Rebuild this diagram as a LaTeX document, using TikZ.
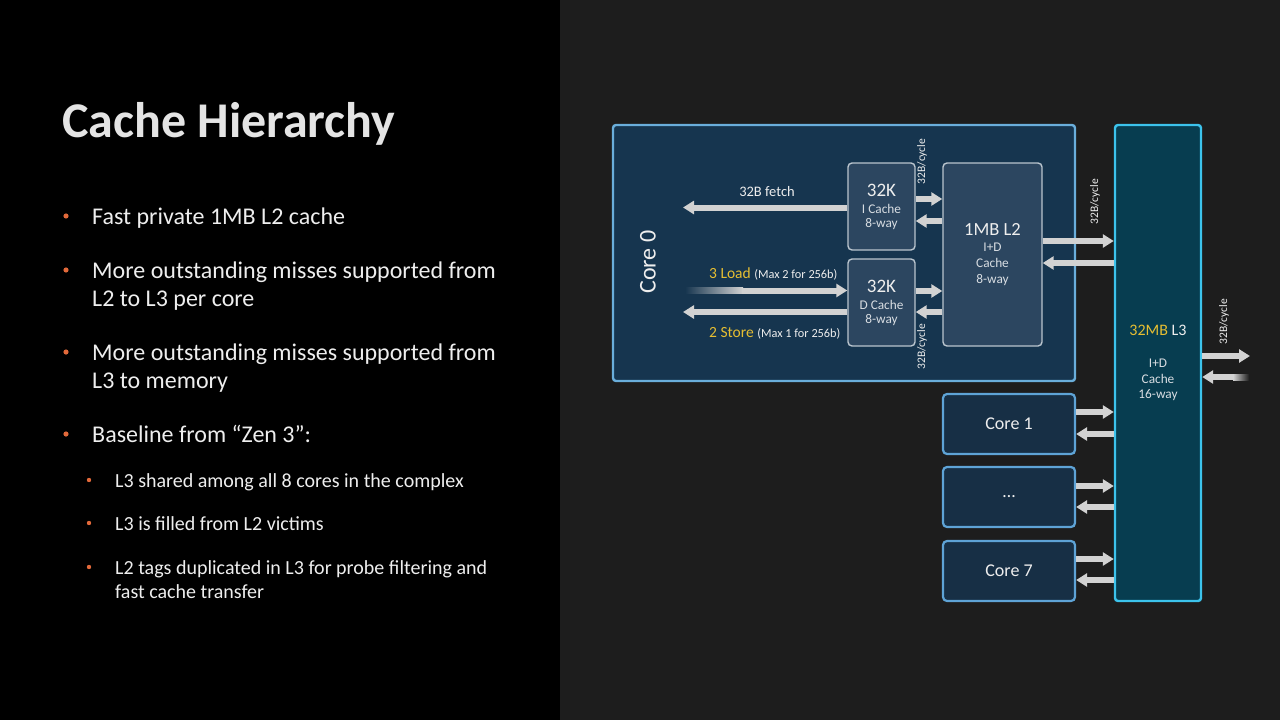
\documentclass[tikz,border=0pt]{standalone}
\usepackage{fontspec}
\setmainfont{Carlito}
\usetikzlibrary{arrows.meta}
\definecolor{bgright}{HTML}{1D1D1D}
\definecolor{titlegray}{HTML}{E4E4E4}
\definecolor{txt}{HTML}{EEEEEE}
\definecolor{boxtxt}{HTML}{D8DDE2}
\definecolor{bulletor}{HTML}{E2693A}
\definecolor{corefill}{HTML}{16354F}
\definecolor{coreedge}{HTML}{6AAEDB}
\definecolor{cachefill}{HTML}{2C4660}
\definecolor{cacheedge}{HTML}{BAC5CE}
\definecolor{lthreefill}{HTML}{073D50}
\definecolor{lthreeedge}{HTML}{3CC3EC}
\definecolor{smallcorefill}{HTML}{172F45}
\definecolor{smallcoreedge}{HTML}{5EA3D6}
\definecolor{busgray}{HTML}{D2D2D2}
\definecolor{gold}{HTML}{E6BE32}
\begin{document}
\begin{tikzpicture}[x=1pt,y=-1pt,
  bul/.style={anchor=base west, inner sep=0pt, align=left, text=txt,
    font=\fontsize{24}{28}\selectfont},
  subbul/.style={anchor=base west, inner sep=0pt, align=left, text=txt,
    font=\fontsize{20}{24}\selectfont},
  bigbox/.style={draw=coreedge, fill=corefill, line width=2.4pt, rounded corners=3pt, inner sep=0pt},
  cachebox/.style={draw=cacheedge, fill=cachefill, line width=1.4pt, rounded corners=4pt,
    inner sep=0pt, align=center, text=boxtxt},
  lthreebox/.style={draw=lthreeedge, fill=lthreefill, line width=2.4pt, rounded corners=3pt,
    inner sep=0pt, align=center, text=boxtxt},
  smallcore/.style={draw=smallcoreedge, fill=smallcorefill, line width=2.2pt, rounded corners=4pt,
    inner sep=0pt, text=txt, font=\fontsize{18}{20}\selectfont,
    minimum width=132pt, minimum height=60pt},
  bus/.style={draw=busgray, line width=6pt, -{Triangle[length=11pt,width=13pt]}},
  cyclelbl/.style={rotate=90, inner sep=0pt, text=txt, font=\fontsize{11.5}{12}\selectfont},
  dot/.style={fill=bulletor}
]
\useasboundingbox (0,0) rectangle (1280,720);
\fill[black] (0,0) rectangle (560,720);
\fill[bgright] (560,0) rectangle (1280,720);

% Title
\node[anchor=base west, inner sep=0pt, text=titlegray,
  font=\fontsize{50}{60}\selectfont\bfseries] (title) at (62,137) {Cache Hierarchy};

% Bullets (multi-line nodes are anchored at the baseline of their last line)
\fill[dot] (66,216) circle (2.6);
\node[bul] (b1) at (92,224) {Fast private 1MB L2 cache};
\fill[dot] (66,270) circle (2.6);
\node[bul] (b2) at (92,306) {More outstanding misses supported from\\L2 to L3 per core};
\fill[dot] (66,352) circle (2.6);
\node[bul] (b3) at (92,388) {More outstanding misses supported from\\L3 to memory};
\fill[dot] (66,434) circle (2.6);
\node[bul] (b4) at (92,442) {Baseline from “Zen 3”:};
\fill[dot] (89,480) circle (2.2);
\node[subbul] (s1) at (115,487) {L3 shared among all 8 cores in the complex};
\fill[dot] (89,523) circle (2.2);
\node[subbul] (s2) at (115,530) {L3 is filled from L2 victims};
\fill[dot] (89,567) circle (2.2);
\node[subbul] (s3) at (115,598) {L2 tags duplicated in L3 for probe filtering and\\fast cache transfer};

% Core 0 complex
\node[bigbox, minimum width=462pt, minimum height=256pt] (core0) at (844,253) {};
\node[rotate=90, inner sep=0pt, text=txt, font=\fontsize{24}{26}\selectfont] (core0lbl) at (648,262) {Core 0};

\node[cachebox, minimum width=67pt, minimum height=87pt, font=\fontsize{13.3}{14}\selectfont] (icache) at (881.5,206.5)
  {{\fontsize{19}{19}\selectfont\color{txt}32K}\\[3pt]I Cache\\8-way};
\node[cachebox, minimum width=67pt, minimum height=87pt, font=\fontsize{13.3}{14}\selectfont] (dcache) at (881.5,302.5)
  {{\fontsize{19}{19}\selectfont\color{txt}32K}\\[3pt]D Cache\\8-way};
\node[cachebox, minimum width=99pt, minimum height=183pt, font=\fontsize{13.3}{16}\selectfont] (l2) at (992.5,254.5)
  {{\fontsize{18.5}{18.5}\selectfont\color{txt}1MB L2}\\I+D\\Cache\\8-way};

% L3
\node[lthreebox, minimum width=86pt, minimum height=476pt, font=\fontsize{13.3}{15.5}\selectfont] (l3) at (1158,363)
  {{\fontsize{16}{16}\selectfont\textcolor{gold}{32MB} \textcolor{txt}{L3}}\\[17pt]I+D\\Cache\\16-way};

% Other cores
\node[smallcore] (core1) at (1009,424) {Core 1};
\node[smallcore] (coredots) at (1009,497) {…};
\node[smallcore] (core7) at (1009,571) {Core 7};

% Coordinates for free ends
\coordinate (fetchend) at (683,207.5);
\coordinate (storeend) at (683,312);
\coordinate (loadstart) at (742,290.5);
\coordinate (outend) at (1250,356);
\coordinate (instart) at (1234,377);

% Core-internal buses
\draw[bus] (icache.west |- 0,207.5) -- (fetchend);
\shade[left color=corefill, right color=busgray] (685,287.5) rectangle (743,293.5);
\draw[bus] (loadstart) -- (dcache.west |- 0,290.5);
\draw[bus] (dcache.west |- 0,312) -- (storeend);

\draw[bus] (icache.east |- 0,199) -- (l2.west |- 0,199);
\draw[bus] (l2.west |- 0,221) -- (icache.east |- 0,221);
\draw[bus] (dcache.east |- 0,291) -- (l2.west |- 0,291);
\draw[bus] (l2.west |- 0,312) -- (dcache.east |- 0,312);

% L2 <-> L3
\draw[bus] (l2.east |- 0,241) -- (l3.west |- 0,241);
\draw[bus] (l3.west |- 0,263) -- (l2.east |- 0,263);

% Cores <-> L3
\draw[bus] (core1.east |- 0,412) -- (l3.west |- 0,412);
\draw[bus] (l3.west |- 0,434) -- (core1.east |- 0,434);
\draw[bus] (coredots.east |- 0,486) -- (l3.west |- 0,486);
\draw[bus] (l3.west |- 0,507) -- (coredots.east |- 0,507);
\draw[bus] (core7.east |- 0,559) -- (l3.west |- 0,559);
\draw[bus] (l3.west |- 0,580) -- (core7.east |- 0,580);

% L3 <-> memory
\draw[bus] (l3.east |- 0,356) -- (outend);
\shade[left color=busgray, right color=bgright] (1233,374) rectangle (1249,380);
\draw[bus] (instart) -- (l3.east |- 0,377);

% Labels
\node[inner sep=0pt, anchor=base, text=txt, font=\fontsize{14.5}{16}\selectfont] (fetchlbl) at (767,196) {32B fetch};
\node[inner sep=0pt, anchor=base west, font=\fontsize{15.5}{16}\selectfont] (loadlbl) at (709,278)
  {\textcolor{gold}{3 Load} \textcolor{txt}{\fontsize{12.3}{13}\selectfont(Max 2 for 256b)}};
\node[inner sep=0pt, anchor=base west, font=\fontsize{15.5}{16}\selectfont] (storelbl) at (709,337)
  {\textcolor{gold}{2 Store} \textcolor{txt}{\fontsize{12.3}{13}\selectfont(Max 1 for 256b)}};
\node[cyclelbl] (cyc1) at (922,161.5) {32B/cycle};
\node[cyclelbl] (cyc2) at (922,346.5) {32B/cycle};
\node[cyclelbl] (cyc3) at (1095,201.5) {32B/cycle};
\node[cyclelbl] (cyc4) at (1224,321.5) {32B/cycle};
\end{tikzpicture}
\end{document}
